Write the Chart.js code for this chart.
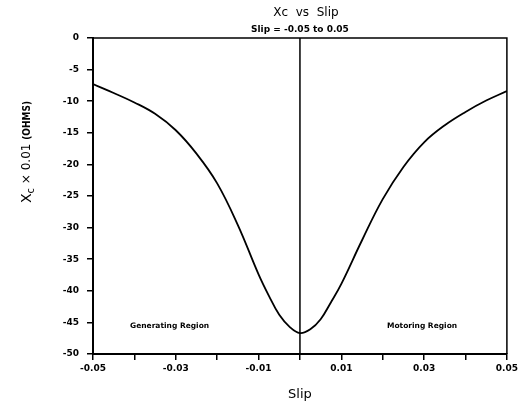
<!DOCTYPE html>
<html>
<head>
<meta charset="utf-8">
<script src="https://cdn.jsdelivr.net/npm/chart.js@4.4.1/dist/chart.umd.min.js"></script>
<style>
  html, body { margin: 0; padding: 0; background: #fff; }
  #wrap { width: 521px; height: 406px; }
</style>
</head>
<body>
<div id="wrap"><canvas id="c"></canvas></div>
<script>
// Reactance Xc (x 0.01 ohms) against slip
const slip = [-0.05, -0.045, -0.04, -0.035, -0.03, -0.025, -0.02, -0.015, -0.01, -0.0075, -0.005, -0.0025, 0,
              0.0025, 0.005, 0.0075, 0.01, 0.015, 0.02, 0.025, 0.03, 0.035, 0.04, 0.045, 0.05];
const xc = [-7.3, -8.7, -10.2, -12.0, -14.6, -18.3, -23.0, -29.6, -37.4, -40.8, -43.8, -45.7, -46.7,
            -46.1, -44.5, -41.8, -38.9, -32.0, -25.5, -20.4, -16.5, -13.8, -11.7, -9.9, -8.4];

// Vertical reference line at zero slip
const zeroSlip = [0, 0];
const zeroXc = [0, -50];

// Axis ticks
const xTicks = [-0.05, -0.04, -0.03, -0.02, -0.01, 0, 0.01, 0.02, 0.03, 0.04, 0.05];
const xTickLabels = ['-0.05', '', '-0.03', '', '-0.01', '', '0.01', '', '0.03', '', '0.05'];
const yTicks = [0, -5, -10, -15, -20, -25, -30, -35, -40, -45, -50];

// Titles and region annotations
const chartTitle = 'Xc  vs  Slip';
const chartSubtitle = 'Slip = -0.05 to 0.05';
const regionNames = ['Generating Region', 'Motoring Region'];
const regionSlip = [-0.0315, 0.0295];
const regionXc = [-45.6, -45.6];

const tickFont = { family: 'DejaVu Sans', size: 9, weight: 'bold' };

const framePlugin = {
  id: 'frame',
  afterDatasetsDraw(chart) {
    const { ctx, chartArea: a, scales } = chart;
    const midX = (a.left + a.right) / 2;
    ctx.save();
    ctx.strokeStyle = '#000';
    ctx.lineWidth = 1.5;
    ctx.beginPath();
    ctx.moveTo(a.left, a.top);
    ctx.lineTo(a.right, a.top);
    ctx.lineTo(a.right, a.bottom);
    ctx.stroke();

    ctx.fillStyle = '#000';
    ctx.textAlign = 'center';
    ctx.textBaseline = 'middle';

    // title and subtitle, centred over the plot
    ctx.font = '12px "DejaVu Sans"';
    ctx.fillText(chartTitle, midX + 6, a.top - 25);
    ctx.font = 'bold 9px "DejaVu Sans"';
    ctx.fillText(chartSubtitle, midX, a.top - 8);

    // region labels
    ctx.font = 'bold 7.5px "DejaVu Sans"';
    regionNames.forEach((t, i) => {
      ctx.fillText(t, scales.x.getPixelForValue(regionSlip[i]), scales.y.getPixelForValue(regionXc[i]));
    });

    // y-axis title with subscript c
    const cx = 27, cy = a.top + 114;
    ctx.translate(cx, cy);
    ctx.rotate(-Math.PI / 2);
    ctx.textAlign = 'left';
    const parts = [
      { t: 'X', f: '14px "DejaVu Sans"', dy: 0 },
      { t: 'c', f: '10px "DejaVu Sans"', dy: 4 },
      { t: ' \u00d7 0.01 ', f: '12px "DejaVu Sans"', dy: 0 },
      { t: '(OHMS)', f: 'bold 10px "DejaVu Sans Condensed"', dy: 0 }
    ];
    let w = 0;
    parts.forEach(p => { ctx.font = p.f; w += ctx.measureText(p.t).width; });
    let x = -w / 2;
    parts.forEach(p => { ctx.font = p.f; ctx.fillText(p.t, x, p.dy); x += ctx.measureText(p.t).width; });
    ctx.restore();
  }
};

new Chart(document.getElementById('c'), {
  type: 'line',
  data: {
    datasets: [
      {
        data: slip.map((s, i) => ({ x: s, y: xc[i] })),
        borderColor: '#000',
        borderWidth: 1.8,
        pointRadius: 0,
        tension: 0.4,
        fill: false
      },
      {
        data: zeroSlip.map((s, i) => ({ x: s, y: zeroXc[i] })),
        borderColor: '#000',
        borderWidth: 1.5,
        pointRadius: 0,
        fill: false
      }
    ]
  },
  options: {
    responsive: true,
    maintainAspectRatio: false,
    animation: false,
    devicePixelRatio: 1,
    layout: { padding: { left: 6, right: 13, top: 38, bottom: 2 } },
    plugins: {
      legend: { display: false },
      tooltip: { enabled: false },
      title: { display: false },
      subtitle: { display: false }
    },
    scales: {
      x: {
        type: 'linear',
        min: -0.05,
        max: 0.05,
        afterBuildTicks(scale) { scale.ticks = xTicks.map(v => ({ value: v })); },
        afterFit(scale) { scale.height = 50; },
        ticks: {
          color: '#000',
          font: tickFont,
          padding: 3,
          maxRotation: 0,
          autoSkip: false,
          callback: (v, i) => xTickLabels[i]
        },
        grid: { drawOnChartArea: false, drawTicks: true, tickLength: 6, color: '#000', lineWidth: 1.5 },
        border: { display: true, color: '#000', width: 2 },
        title: {
          display: true,
          text: 'Slip',
          color: '#000',
          font: { family: 'DejaVu Sans', size: 13 },
          padding: { top: 2, bottom: 2 }
        }
      },
      y: {
        type: 'linear',
        min: -50,
        max: 0,
        afterBuildTicks(scale) { scale.ticks = yTicks.map(v => ({ value: v })); },
        afterFit(scale) { scale.width = 87; },
        ticks: { color: '#000', font: tickFont, padding: 8 },
        grid: { drawOnChartArea: false, drawTicks: true, tickLength: 6, color: '#000', lineWidth: 1.5 },
        border: { display: true, color: '#000', width: 2 }
      }
    }
  },
  plugins: [framePlugin]
});
</script>
</body>
</html>
